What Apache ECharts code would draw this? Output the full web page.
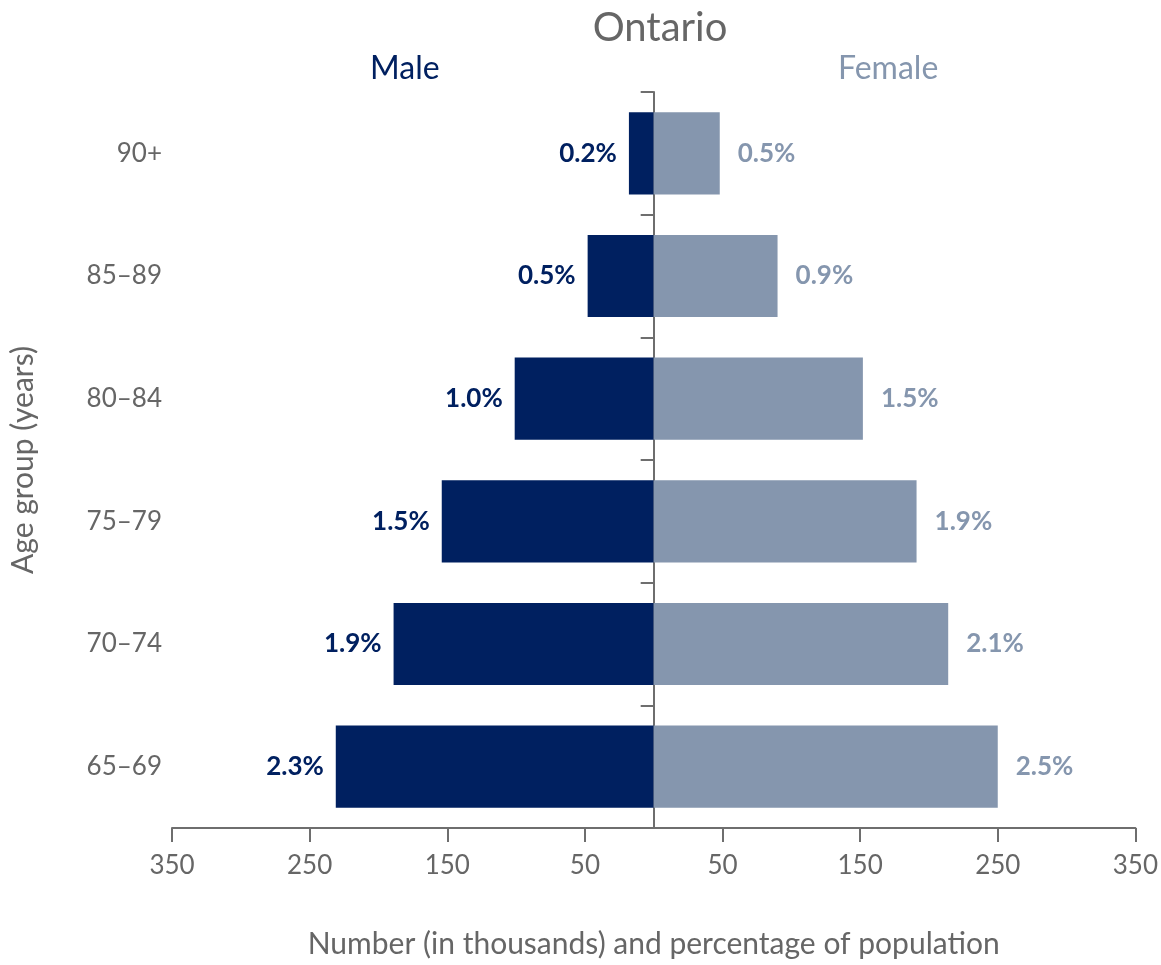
<!DOCTYPE html>
<html>
<head>
<meta charset="utf-8">
<script src="https://cdn.jsdelivr.net/npm/echarts@6/dist/echarts.min.js"></script>
<style>
  html, body { margin: 0; padding: 0; background: #fff; }
  #chart { width: 1161px; height: 965px; }
</style>
</head>
<body>
<div id="chart"></div>
<script>
// bottom to top
const ageGroups = ['65–69', '70–74', '75–79', '80–84', '85–89', '90+']
const maleThousands = [231, 189, 154, 101, 48, 18]
const femaleThousands = [250, 214, 191, 152, 90, 48]
const malePct = ['2.3%', '1.9%', '1.5%', '1.0%', '0.5%', '0.2%']
const femalePct = ['2.5%', '2.1%', '1.9%', '1.5%', '0.9%', '0.5%']
const xTicks = [-350, -250, -150, -50, 50, 150, 250, 350]

const maleColor = '#002060'
const femaleColor = '#8596AE'
const greyText = '#666666'
const axisColor = '#6e6e6e'
const font = 'Lato, "Noto Sans", sans-serif'

const chart = echarts.init(document.getElementById('chart'))

chart.setOption({
  animation: false,
  textStyle: { fontFamily: font },
  title: {
    text: 'Ontario',
    left: 655,
    textAlign: 'center',
    top: 3,
    textStyle: { color: greyText, fontSize: 40, fontWeight: 'normal', fontFamily: font },
  },
  graphic: [
    {
      type: 'text', left: 370, top: 53,
      style: { text: 'Male', fill: maleColor, fontSize: 32, fontFamily: font },
    },
    {
      type: 'text', left: 838, top: 53,
      style: { text: 'Female', fill: femaleColor, fontSize: 32, fontFamily: font },
    },
  ],
  grid: { left: 172, right: 21, top: 92, bottom: 137, containLabel: false },
  xAxis: {
    type: 'value',
    min: -350,
    max: 350,
    interval: 50,
    name: 'Number (in thousands) and percentage of population',
    nameLocation: 'middle',
    nameGap: 101,
    nameTextStyle: { color: greyText, fontSize: 30, fontFamily: font },
    axisLine: { show: true, lineStyle: { color: axisColor, width: 2 } },
    axisTick: { show: true, length: 14, customValues: xTicks, lineStyle: { color: axisColor, width: 2 } },
    axisLabel: {
      customValues: xTicks,
      formatter: v => Math.abs(v),
      color: greyText,
      fontSize: 26,
      margin: 25,
      fontFamily: font,
    },
    splitLine: { show: false },
  },
  yAxis: [
    {
      type: 'category',
      data: ageGroups,
      position: 'left',
      name: 'Age group (years)',
      nameLocation: 'middle',
      nameGap: 134,
      nameTextStyle: { color: greyText, fontSize: 30, fontFamily: font },
      axisLine: { show: false, onZero: false },
      axisTick: { show: false },
      axisLabel: { color: greyText, fontSize: 26, margin: 10, fontFamily: font },
    },
    {
      type: 'category',
      data: ageGroups,
      position: 'left',
      axisLine: { show: true, onZero: true, lineStyle: { color: axisColor, width: 2 } },
      axisTick: { show: true, length: 13, lineStyle: { color: axisColor, width: 2 } },
      axisLabel: { show: false },
    },
  ],
  series: [
    {
      name: 'Male',
      type: 'bar',
      stack: 'pop',
      barWidth: '67%',
      data: maleThousands.map(v => -v),
      itemStyle: { color: maleColor },
      label: {
        show: true,
        position: 'left',
        distance: 12,
        formatter: p => malePct[p.dataIndex],
        color: maleColor,
        fontSize: 26,
        fontWeight: 'bold',
        fontFamily: font,
      },
      z: 1,
    },
    {
      name: 'Female',
      type: 'bar',
      stack: 'pop',
      barWidth: '67%',
      data: femaleThousands,
      itemStyle: { color: femaleColor },
      label: {
        show: true,
        position: 'right',
        distance: 18,
        formatter: p => femalePct[p.dataIndex],
        color: femaleColor,
        fontSize: 26,
        fontWeight: 'bold',
        fontFamily: font,
      },
      z: 1,
    },
  ],
})
</script>
</body>
</html>
